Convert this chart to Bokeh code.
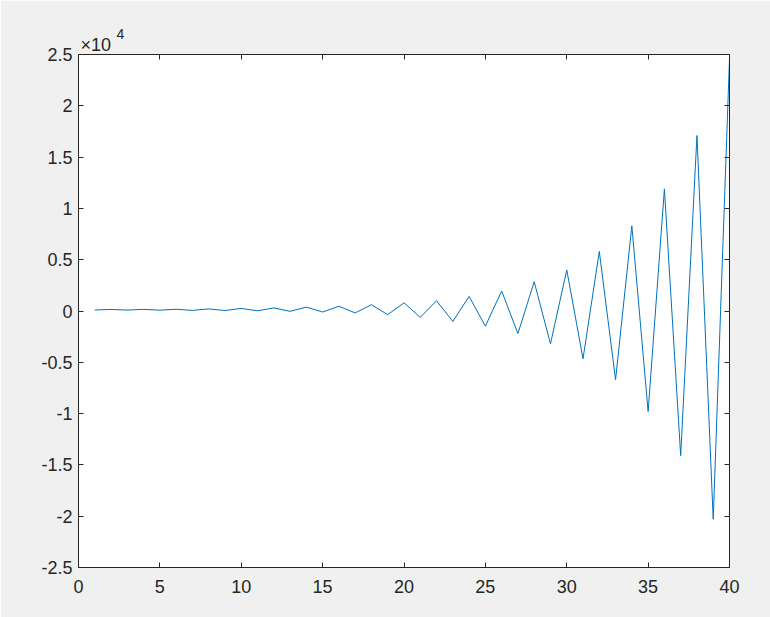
from bokeh.plotting import figure
from bokeh.models import FixedTicker, LinearAxis, Title, Range1d
from bokeh.embed import file_html
from bokeh.resources import INLINE

n = list(range(1, 41))
values = [100, 150, 90, 160, 80, 170, 60, 200, 50, 250,
          20, 300, -30, 380, -100, 460, -190, 610, -360, 800,
          -620, 1000, -1020, 1420, -1480, 1950, -2200, 2850, -3200, 4000,
          -4660, 5800, -6700, 8300, -9800, 11900, -14100, 17100, -20300, 24600]

x_ticks = [0, 5, 10, 15, 20, 25, 30, 35, 40]
y_ticks = [-25000, -20000, -15000, -10000, -5000, 0, 5000, 10000, 15000, 20000, 25000]
y_tick_labels = ["-2.5", "-2", "-1.5", "-1", "-0.5", "0", "0.5", "1", "1.5", "2", "2.5"]
exponent_base = "×10"
exponent_power = "4"

BG = "#f0f0f0"
AX = "#262626"
FONT = "Liberation Sans"

p = figure(width=770, height=617, output_backend="svg", toolbar_location=None,
           x_range=Range1d(0, 40), y_range=Range1d(-25000, 25000),
           min_border_left=78, min_border_right=41, min_border_top=54, min_border_bottom=50,
           x_axis_location=None, y_axis_location=None)
p.background_fill_color = "white"
p.border_fill_color = BG
p.outline_line_color = AX
p.outline_line_width = 1
p.xgrid.visible = False
p.ygrid.visible = False

def style(ax, labels=True, standoff=6):
    ax.axis_line_color = AX
    ax.major_tick_line_color = AX
    ax.major_tick_in = 5
    ax.major_tick_out = 0
    ax.minor_tick_line_color = None
    ax.major_label_text_color = AX
    ax.major_label_text_font = FONT
    ax.major_label_text_font_size = "18px"
    ax.major_label_standoff = standoff
    if not labels:
        ax.major_label_text_font_size = "0px"
        ax.major_label_text_color = None

xb = LinearAxis(ticker=FixedTicker(ticks=x_ticks))
style(xb, True, 12)
p.add_layout(xb, "below")
xt = LinearAxis(ticker=FixedTicker(ticks=x_ticks))
style(xt, False, 0)
p.add_layout(xt, "above")

overrides = {t: l for t, l in zip(y_ticks, y_tick_labels)}
yl = LinearAxis(ticker=FixedTicker(ticks=y_ticks), major_label_overrides=overrides)
style(yl, True, 6)
p.add_layout(yl, "left")
yr = LinearAxis(ticker=FixedTicker(ticks=y_ticks))
style(yr, False, 0)
p.add_layout(yr, "right")

p.line(n, values, line_color="#0072BD", line_width=1)

t1 = Title(text=exponent_base, align="left", offset=2, standoff=0,
           text_font=FONT, text_font_size="18px", text_font_style="normal",
           text_color=AX, vertical_align="bottom")
p.add_layout(t1, "above")
t2 = Title(text=exponent_power, align="left", offset=38, standoff=-12,
           text_font=FONT, text_font_size="14px", text_font_style="normal",
           text_color=AX, vertical_align="bottom")
p.add_layout(t2, "above")

html = file_html(p, INLINE)
open("out.html", "w").write(html)
